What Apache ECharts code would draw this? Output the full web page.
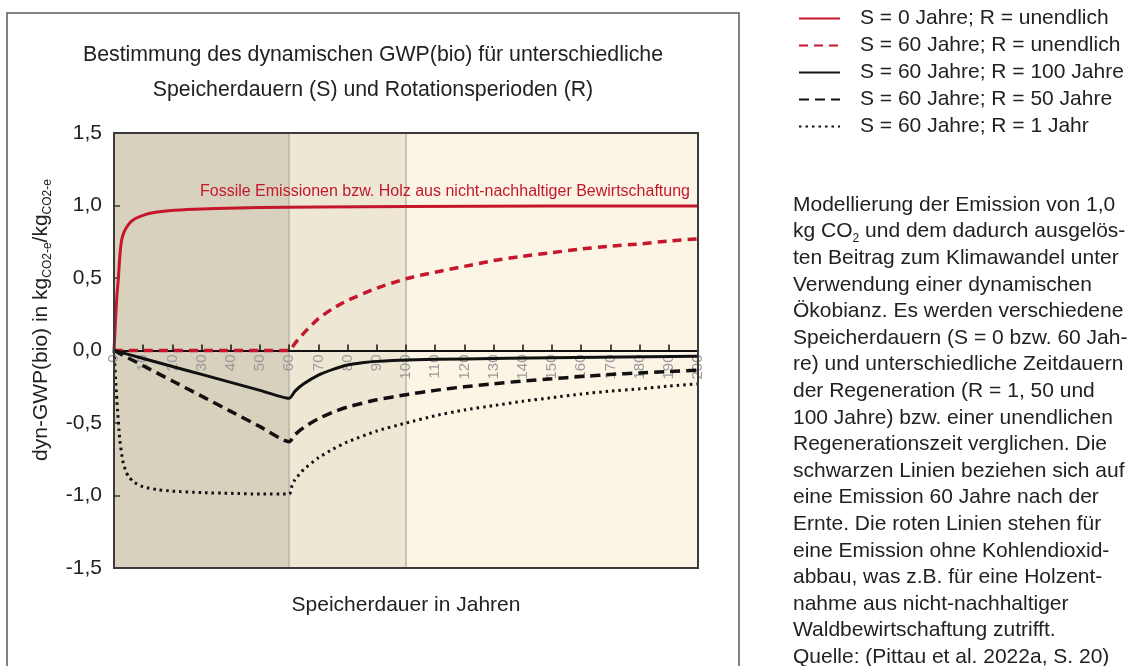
<!DOCTYPE html>
<html>
<head>
<meta charset="utf-8">
<script src="https://cdn.jsdelivr.net/npm/echarts@6/dist/echarts.min.js"></script>
<style>
html,body{margin:0;padding:0;background:#fff;}
#chart{width:1137px;height:666px;}
</style>
</head>
<body>
<div id="chart"></div>
<script>
// ---- data ----
const xTickLabels = ['0','10','20','30','40','50','60','70','80','90','100','110','120','130','140','150','160','170','180','190','200'];
const yTickLabels = ['-1,5','-1,0','-0,5','0,0','0,5','1,0','1,5'];
const bandEdges = [0, 60, 100, 200];
const bandColors = ['#d7d1bd', '#ede7d4', '#fcf5e5'];
const vLines = [60, 100];

const seriesNames = [
  'S = 0 Jahre; R = unendlich',
  'S = 60 Jahre; R = unendlich',
  'S = 60 Jahre; R = 100 Jahre',
  'S = 60 Jahre; R = 50 Jahre',
  'S = 60 Jahre; R = 1 Jahr'
];

const redSolidX = [0,0.5,1,1.5,2,2.6,3.5,5,6.5,9,12,17,25,35,50,70,100,150,200];
const redSolidY = [0,0.2,0.38,0.5,0.65,0.76,0.82,0.87,0.9,0.925,0.945,0.96,0.972,0.98,0.986,0.99,0.993,0.996,0.997];

const redDashX = [0,60,62,65,70,75,80,90,100,110,120,130,140,150,160,170,180,190,200];
const redDashY = [0,0,0.05,0.12,0.22,0.29,0.345,0.43,0.495,0.54,0.58,0.62,0.65,0.675,0.7,0.72,0.735,0.755,0.77];

const blackSolidX = [0,10,20,30,40,50,60,62,65,70,75,80,85,90,100,120,150,200];
const blackSolidY = [0,-0.055,-0.11,-0.165,-0.22,-0.275,-0.33,-0.28,-0.23,-0.17,-0.13,-0.1,-0.085,-0.075,-0.065,-0.058,-0.05,-0.04];

const blackDashX = [0,10,20,30,40,50,60,62,65,70,75,80,90,100,110,120,130,140,150,160,170,180,190,200];
const blackDashY = [0,-0.105,-0.21,-0.315,-0.42,-0.525,-0.63,-0.58,-0.53,-0.47,-0.425,-0.39,-0.34,-0.305,-0.275,-0.25,-0.23,-0.21,-0.195,-0.18,-0.165,-0.155,-0.145,-0.135];

const blackDotX = [0,1,2,3,4,5,7,10,15,20,30,40,50,60,61,62,65,70,75,80,90,100,110,120,130,140,150,160,170,180,190,200];
const blackDotY = [0,-0.35,-0.62,-0.76,-0.83,-0.87,-0.91,-0.94,-0.96,-0.97,-0.98,-0.985,-0.99,-0.99,-0.93,-0.89,-0.82,-0.74,-0.68,-0.63,-0.555,-0.5,-0.45,-0.41,-0.38,-0.35,-0.325,-0.3,-0.28,-0.265,-0.245,-0.23];

const titleLines = ['Bestimmung des dynamischen GWP(bio) für unterschiedliche', 'Speicherdauern (S) und Rotationsperioden (R)'];
const xAxisTitle = 'Speicherdauer in Jahren';
const annotation = 'Fossile Emissionen bzw. Holz aus nicht-nachhaltiger Bewirtschaftung';
const descLines = [
  'Modellierung der Emission von 1,0',
  'kg CO{s|2} und dem dadurch ausgelös-',
  'ten Beitrag zum Klimawandel unter',
  'Verwendung einer dynamischen',
  'Ökobianz. Es werden verschiedene',
  'Speicherdauern (S = 0 bzw. 60 Jah-',
  're) und unterschiedliche Zeitdauern',
  'der Regeneration (R = 1, 50 und',
  '100 Jahre) bzw. einer unendlichen',
  'Regenerationszeit verglichen. Die',
  'schwarzen Linien beziehen sich auf',
  'eine Emission 60 Jahre nach der',
  'Ernte. Die roten Linien stehen für',
  'eine Emission ohne Kohlendioxid-',
  'abbau, was z.B. für eine Holzent-',
  'nahme aus nicht-nachhaltiger',
  'Waldbewirtschaftung zutrifft.',
  'Quelle: (Pittau et al. 2022a, S. 20)'
];

// ---- build ----
const FONT = "'Liberation Sans', Arial, Helvetica, sans-serif";
const RED = '#c4172c';
const BLK = '#111111';
const Y_MIN = -1.5, Y_MAX = 1.5;
const GRID = { left: 114, right: 439, top: 133, bottom: 98 };
const gridH = 666 - GRID.top - GRID.bottom;
// shift x axis from grid bottom up to the y = 0 line
const zeroOffset = -gridH * (0 - Y_MIN) / (Y_MAX - Y_MIN);
const pairs = (xs, ys) => xs.map((x, i) => [x, ys[i]]);

const bandAreas = [];
for (let i = 0; i < bandColors.length; i++) {
  bandAreas.push([
    { xAxis: bandEdges[i], yAxis: Y_MIN, itemStyle: { color: bandColors[i] } },
    { xAxis: bandEdges[i + 1], yAxis: Y_MAX }
  ]);
}

function lineSeries(name, xs, ys, color, width, type) {
  return {
    name: name, type: 'line', data: pairs(xs, ys),
    symbol: 'circle', symbolSize: 0, showSymbol: false,
    smooth: 0.2,
    lineStyle: { color: color, width: width, type: type },
    itemStyle: { color: color }, z: 3
  };
}

const chart = echarts.init(document.getElementById('chart'));
const option = {
  animation: false,
  textStyle: { fontFamily: FONT },
  grid: Object.assign({ outerBoundsMode: 'none', containLabel: false, show: true, borderColor: '#3a3a3a', borderWidth: 2, backgroundColor: 'transparent', z: 5 }, GRID),
  legend: {
    orient: 'vertical',
    left: 793,
    top: 3,
    itemWidth: 41,
    itemHeight: 14,
    itemGap: 6,
    data: seriesNames,
    itemStyle: { opacity: 0 },
    textStyle: { fontSize: 21, color: '#222', fontFamily: FONT, lineHeight: 21, padding: [0, 0, 0, 15] }
  },
  xAxis: {
    type: 'value', min: 0, max: 200, interval: 10, position: 'bottom', offset: zeroOffset, z: 2,
    axisLine: { show: true, onZero: false, lineStyle: { color: BLK, width: 2 } },
    axisTick: { show: true, inside: true, length: 6, lineStyle: { color: BLK, width: 1.5 } },
    axisLabel: {
      rotate: 90, color: '#9a9a9a', fontSize: 15, margin: 4, fontFamily: FONT,
      formatter: v => xTickLabels[Math.round(v / 10)]
    },
    splitLine: { show: false },
    name: xAxisTitle, nameLocation: 'middle', nameGap: 244,
    nameTextStyle: { fontSize: 21, color: '#222', fontFamily: FONT }
  },
  yAxis: {
    type: 'value', min: Y_MIN, max: Y_MAX, interval: 0.5, z: 2,
    axisLine: { show: true, onZero: false, lineStyle: { color: '#3a3a3a', width: 2 } },
    axisTick: { show: true, inside: true, length: 6, lineStyle: { color: '#3a3a3a', width: 1.5 } },
    axisLabel: {
      color: '#222', fontSize: 21, margin: 12, fontFamily: FONT,
      formatter: v => yTickLabels[Math.round((v - Y_MIN) / 0.5)]
    },
    splitLine: { show: false }
  },
  series: [
    {
      name: '_bands', type: 'line', data: [], z: -2, silent: true,
      markArea: { silent: true, z: -2, data: bandAreas },
      markLine: {
        silent: true, z: -1, symbol: 'none', label: { show: false },
        lineStyle: { color: '#b9b6ad', width: 1.5, type: 'solid' },
        data: vLines.map(v => ({ xAxis: v }))
      }
    },
    lineSeries(seriesNames[0], redSolidX, redSolidY, RED, 3, 'solid'),
    lineSeries(seriesNames[1], redDashX, redDashY, RED, 3.5, [9, 6]),
    lineSeries(seriesNames[2], blackSolidX, blackSolidY, BLK, 3, 'solid'),
    lineSeries(seriesNames[3], blackDashX, blackDashY, BLK, 3.5, [10, 6]),
    lineSeries(seriesNames[4], blackDotX, blackDotY, BLK, 3, [2.5, 4])
  ],
  graphic: [
    { type: 'rect', shape: { x: 7, y: 13, width: 732, height: 700 }, style: { fill: 'none', stroke: '#5a5a5a', lineWidth: 1.5 }, silent: true },
    { type: 'text', x: 373, y: 38, style: { text: titleLines.join('\n'), lineHeight: 35, fill: '#222', font: '21.3px ' + FONT, textAlign: 'center', textVerticalAlign: 'top' } },
    { type: 'text', x: 690, y: 192, z: 10, style: { text: annotation, font: '16px ' + FONT, fill: RED, textAlign: 'right', textVerticalAlign: 'middle' } },
    {
      type: 'text', x: 41, y: 320, rotation: Math.PI / 2,
      style: {
        text: '{n|dyn-GWP(bio) in kg}{s|CO2-e}{n|/kg}{s|CO2-e}',
        textAlign: 'center', textVerticalAlign: 'middle',
        rich: {
          n: { fontSize: 21, fontFamily: FONT, fill: '#222', lineHeight: 26, verticalAlign: 'middle' },
          s: { fontSize: 12, fontFamily: FONT, fill: '#222', lineHeight: 13, verticalAlign: 'bottom' }
        }
      }
    },
    {
      type: 'text', x: 793, y: 205 - 13.3,
      style: {
        text: descLines.map(l => l.startsWith('kg') ? l.replace(/^(.*?)\{s\|2\}(.*)$/, '{t|$1}{s|2}{t|$2}') : '{t|' + l + '}').join('\n'),
        textAlign: 'left', textVerticalAlign: 'top',
        rich: {
          t: { fontSize: 21, fontFamily: FONT, fill: '#222', lineHeight: 26.6, verticalAlign: 'middle' },
          s: { fontSize: 12, fontFamily: FONT, fill: '#222', lineHeight: 12, verticalAlign: 'bottom' }
        }
      }
    }
  ]
};
chart.setOption(option);
</script>
</body>
</html>
